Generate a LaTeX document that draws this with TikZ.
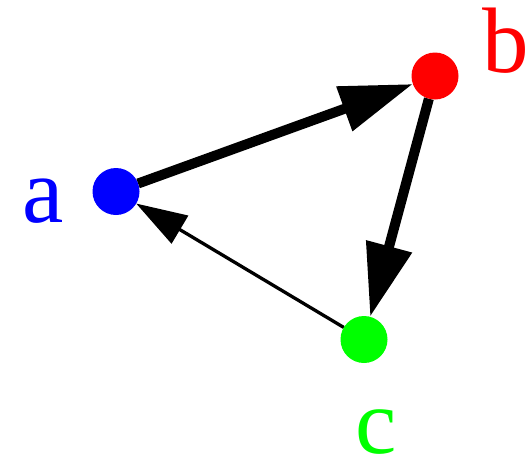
\documentclass[tikz,border=0pt]{standalone}
\usepackage{fontspec}
\setmainfont{Liberation Serif}
\usetikzlibrary{arrows.meta,backgrounds}
\definecolor{nblue}{RGB}{0,0,255}
\definecolor{nred}{RGB}{255,0,0}
\definecolor{ngreen}{RGB}{0,255,0}
\tikzset{
  dot/.style={circle,inner sep=0pt,outer sep=0pt,minimum size=47pt},
  lbl/.style={inner sep=0pt,anchor=base,font=\fontsize{93}{93}\selectfont},
  thickedge/.style={line width=10pt,-{Triangle[length=73pt,width=45pt]}},
  thinedge/.style={line width=3.3pt,-{Triangle[length=51pt,width=32pt]}}
}
\begin{document}
\begin{tikzpicture}[x=1pt,y=-1pt]
\useasboundingbox (0,0) rectangle (530,458);
\node[dot,fill=nblue] (a) at (116,191.5) {};
\node[dot,fill=nred] (b) at (435,76) {};
\node[dot,fill=ngreen] (c) at (364,339.5) {};
\node[lbl,text=nblue] (la) at (43,222) {a};
\node[lbl,text=nred] (lb) at (506,72) {b};
\node[lbl,text=ngreen] (lc) at (376,453) {c};
\begin{scope}[on background layer]
\draw[thickedge] (a) -- (b);
\draw[thickedge] (b) -- (c);
\draw[thinedge] (c) -- (a);
\end{scope}
\end{tikzpicture}
\end{document}
